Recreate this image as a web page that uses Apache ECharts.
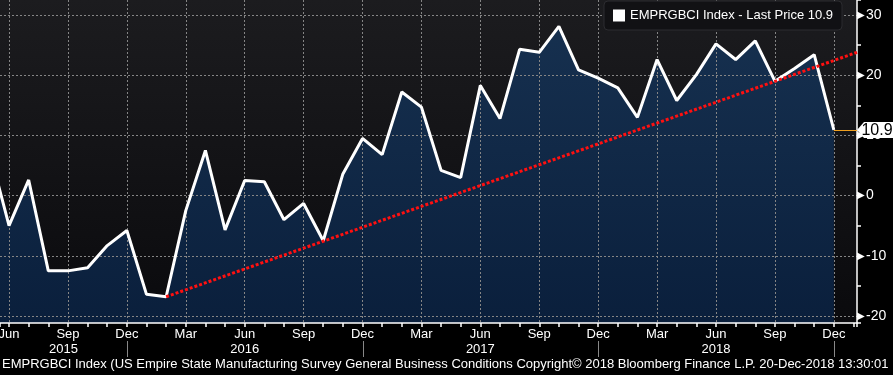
<!DOCTYPE html>
<html>
<head>
<meta charset="utf-8">
<script src="https://cdn.jsdelivr.net/npm/echarts@6/dist/echarts.min.js"></script>
<style>
    html, body { margin: 0; padding: 0; background: #000; }
    #chart { width: 893px; height: 375px; }
</style>
</head>
<body>
<div id="chart"></div>
<script>
// month index: Jan 2015 = 1
const monthNames = [ 'Jan', 'Feb', 'Mar', 'Apr', 'May', 'Jun', 'Jul', 'Aug', 'Sep', 'Oct', 'Nov', 'Dec' ];
const firstMonth = 5; // May 2015
const values = [
    7.5,
    -5.0, 2.6, -12.5, -12.5, -12.0, -8.3, -5.8,
    -16.4, -16.8, -2.5, 7.5, -5.7, 2.5, 2.3, -4.0, -1.3, -7.5, 3.6, 9.5,
    6.8, 17.2, 14.7, 4.2, 3.0, 18.3, 12.8, 24.3, 23.8, 28.1, 20.9, 19.5,
    17.9, 13.0, 22.6, 15.8, 20.1, 25.2, 22.6, 25.7, 19.0, 21.1, 23.4, 10.9
];
const trendPoints = [ [ 14, -16.8 ], [ 49.18, 23.8 ] ];
const yearLabels = [ '2015', '2016', '2017', '2018' ];
const yearEnds = [ 12, 24, 36, 48 ];
const seriesName = 'EMPRGBCI Index';
const footerText = 'EMPRGBCI Index (US Empire State Manufacturing Survey General Business Conditions Copyright\u00a9 2018 Bloomberg Finance L.P. 20-Dec-2018 13:30:01';

( () => {
    const xMin = 5.54;
    const xMax = 49.18;
    const yMin = -21.16;
    const yMax = 32.49;
    const font = '"Liberation Sans", Arial, sans-serif';

    const points = values.map( ( v, k ) => [ firstMonth + k, v ] );
    const lastPoint = points[ points.length - 1 ];
    const lastValue = lastPoint[ 1 ];

    const chart = echarts.init( document.getElementById( 'chart' ), null, { renderer: 'canvas' } );

    const dashed = {
        show: true,
        showMinLine: false,
        showMaxLine: false,
        lineStyle: { color: '#858585', width: 1, type: [ 2, 2 ] },
    };

    const option = {
        backgroundColor: '#000',
        animation: false,
        textStyle: { fontFamily: font },
        title: {
            text: footerText,
            left: 2,
            top: 358,
            padding: 0,
            textStyle: { color: '#fff', fontSize: 13, fontWeight: 'normal', fontFamily: font },
        },
        legend: {
            data: [ seriesName ],
            left: 604,
            top: 1,
            padding: [ 8, 9, 8, 9 ],
            backgroundColor: '#111114',
            borderColor: '#2c2c30',
            borderWidth: 1,
            borderRadius: 4,
            icon: 'rect',
            itemWidth: 12,
            itemHeight: 12,
            itemGap: 5,
            formatter: ( name ) => name + ' - Last Price ' + lastValue,
            textStyle: { color: '#fff', fontSize: 13, fontFamily: font },
        },
        grid: {
            left: 0,
            right: 36,
            top: 0,
            bottom: 52,
            containLabel: false,
            outerBoundsMode: 'none',
            show: true,
            borderWidth: 0,
            backgroundColor: new echarts.graphic.LinearGradient( 0, 0, 0, 1, [
                { offset: 0, color: '#1c1c1f' },
                { offset: 1, color: '#0a0a0d' },
            ] ),
        },
        xAxis: [
            {
                type: 'value',
                min: xMin,
                max: xMax,
                splitNumber: 14,
                z: 2,
                axisLine: { show: true, onZero: false, lineStyle: { color: '#fff', width: 1.5 } },
                axisTick: { show: false },
                axisLabel: {
                    color: '#fff',
                    fontSize: 13,
                    margin: 5,
                    showMinLabel: false,
                    showMaxLabel: false,
                    formatter: ( v ) => ( Math.abs( v - Math.round( v ) ) < 1e-6 && Math.round( v ) % 3 === 0 )
                        ? monthNames[ ( Math.round( v ) - 1 ) % 12 ]
                        : '',
                },
                splitLine: dashed,
            },
            {
                type: 'value',
                min: xMin,
                max: xMax,
                splitNumber: 44,
                position: 'bottom',
                z: 2,
                axisLine: { show: false, onZero: false },
                axisTick: { show: true, length: 4, lineStyle: { color: '#fff', width: 1.5 } },
                axisLabel: { show: false },
                splitLine: { show: false },
            },
        ],
        yAxis: [
            {
                type: 'value',
                position: 'right',
                min: yMin,
                max: yMax,
                splitNumber: 5,
                z: 2,
                axisLine: { show: true, lineStyle: { color: '#fff', width: 1.5 } },
                axisTick: { show: false },
                axisLabel: {
                    color: '#fff',
                    fontSize: 14,
                    margin: 0,
                    showMinLabel: false,
                    showMaxLabel: false,
                    formatter: ( v ) => '{t|\u25B6}' + v,
                    rich: {
                        t: { fontSize: 10, color: '#fff', padding: [ 0, 1, 0, 0 ] },
                    },
                },
                splitLine: dashed,
            },
            {
                type: 'value',
                position: 'right',
                min: yMin,
                max: yMax,
                splitNumber: 10,
                z: 2,
                axisLine: { show: false },
                axisTick: { show: true, inside: false, length: 4, lineStyle: { color: '#fff', width: 1.5 } },
                axisLabel: { show: false },
                splitLine: { show: false },
            },
        ],
        series: [
            {
                type: 'line',
                name: 'area',
                data: points,
                z: 1,
                symbol: 'none',
                silent: true,
                lineStyle: { width: 0 },
                areaStyle: {
                    origin: 'start',
                    opacity: 1,
                    color: new echarts.graphic.LinearGradient( 0, 0, 0, 1, [
                        { offset: 0, color: '#16304f' },
                        { offset: 1, color: '#0a1f3c' },
                    ] ),
                },
            },
            {
                type: 'line',
                name: seriesName,
                data: points,
                z: 3,
                color: '#fff',
                symbol: 'none',
                lineStyle: { color: '#fff', width: 3 },
                markLine: {
                    silent: true,
                    symbol: 'none',
                    label: { show: false },
                    lineStyle: { color: '#f0a020', width: 1, type: 'solid' },
                    data: [ [ { coord: lastPoint }, { coord: [ xMax, lastValue ] } ] ],
                },
                markPoint: {
                    silent: true,
                    z: 6,
                    data: [ {
                        coord: [ xMax, lastValue ],
                        symbol: 'path://M0,8 L7,0 L36,0 L36,16 L7,16 Z',
                        symbolSize: [ 36, 16 ],
                        symbolOffset: [ 18, 0 ],
                        symbolKeepAspect: false,
                        itemStyle: { color: '#fff' },
                        label: {
                            show: true,
                            position: 'inside',
                            offset: [ 2, 1 ],
                            color: '#000',
                            fontSize: 16,
                            formatter: String( lastValue ),
                        },
                    } ],
                },
            },
            {
                type: 'line',
                name: 'trend',
                data: trendPoints,
                z: 4,
                symbol: 'none',
                silent: true,
                lineStyle: { color: '#ff1010', width: 3, type: [ 3, 2 ] },
            },
        ],
    };

    chart.setOption( option );

    // year row under the month labels
    const graphics = [];
    let prev = xMin;
    yearEnds.forEach( ( end, k ) => {
        const x0 = chart.convertToPixel( { xAxisIndex: 0 }, prev );
        const x1 = chart.convertToPixel( { xAxisIndex: 0 }, end );
        graphics.push( {
            type: 'text',
            x: ( x0 + x1 ) / 2,
            y: 349,
            style: {
                text: yearLabels[ k ],
                fill: '#fff',
                font: '13px ' + font,
                align: 'center',
                verticalAlign: 'middle',
            },
        } );
        graphics.push( {
            type: 'line',
            shape: { x1: Math.round( x1 ) + 0.5, y1: 341, x2: Math.round( x1 ) + 0.5, y2: 357 },
            style: { stroke: '#888', lineWidth: 1 },
        } );
        prev = end;
    } );
    chart.setOption( { graphic: graphics } );

    window.addEventListener( 'resize', () => {
        chart.resize();
    } );
} ) ();
</script>
</body>
</html>
